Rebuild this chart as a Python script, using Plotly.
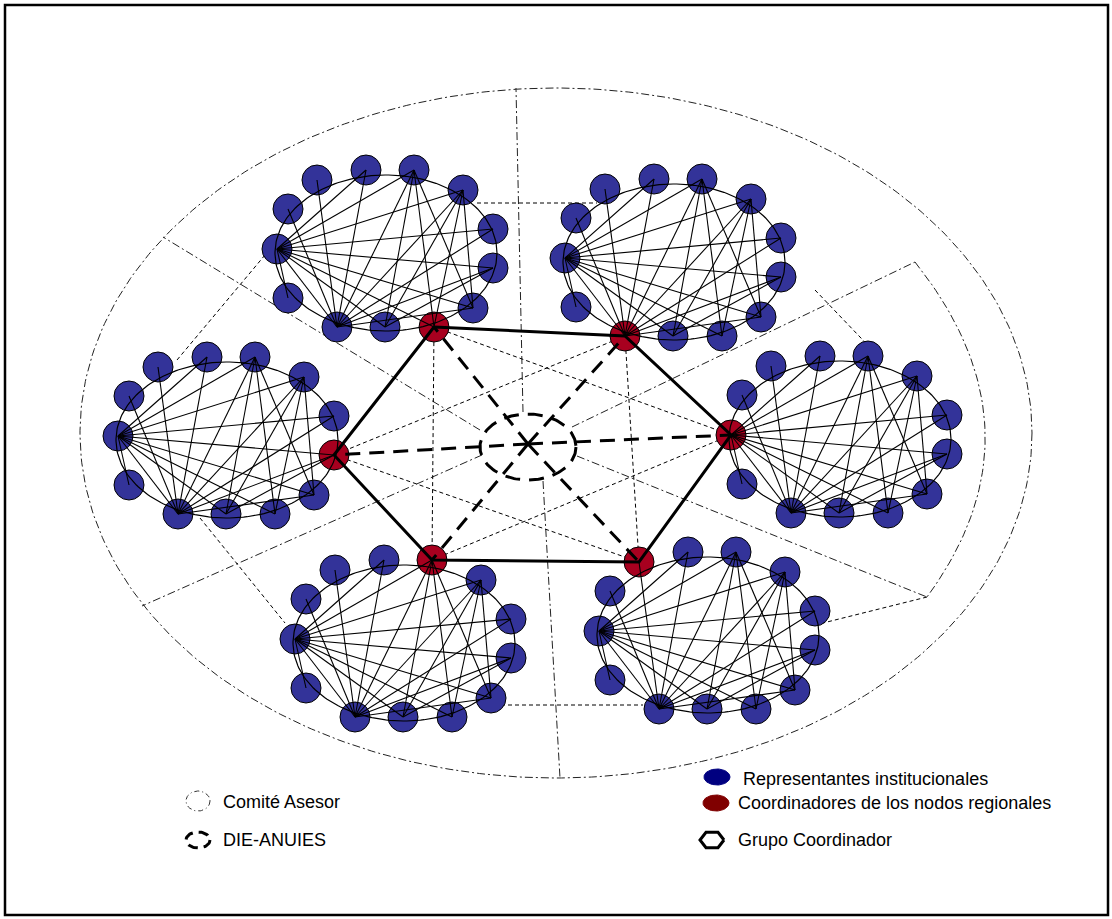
import numpy as np
import plotly.graph_objects as go

W, H = 1112, 919

# ---------------- data ----------------
# regional clusters (TL, TR, R, BR, BL, L)
cluster_cx = [386, 674, 840, 708, 404, 227]
cluster_cy = [253, 262, 439, 635, 643, 440]
red_index = [7, 9, 11, 0, 2, 5]
ring_rx, ring_ry = 111, 78

# node offsets inside each cluster (same template)
node_dx = [-69, -20, 28, 77, 107, 107, 87, 48, -1, -49, -98, -109, -98]
node_dy = [-73, -83, -83, -63, -24, 15, 55, 74, 74, 74, 45, -4, -44]

# edges of the template graph
edge_a = [11, 11, 11, 11, 11, 11, 11, 11, 11, 11,
          9, 9, 9, 9, 9, 9, 9, 9,
          2, 2, 2, 3, 3, 3, 5]
edge_b = [1, 2, 3, 4, 5, 6, 7, 8, 9, 10,
          0, 1, 2, 3, 4, 5, 6, 12,
          6, 7, 8, 6, 7, 8, 8]

# central DIE-ANUIES ellipse and outer Comité Asesor ellipse
die_c = (528, 447); die_r = (48, 33)
outer_c = (556, 433); outer_r = (476, 345)

# inner arc closing the right-hand sector (start, bulge, end)
arc_x = [915, 985, 927]
arc_y = [262, 430, 597]

# sector dividers (dash-dot): start and end points
sec_x0 = [523, 572, 577, 543, 482, 480]
sec_y0 = [412, 427, 456, 481, 455, 430]
sec_x1 = [516, 915, 927, 560, 142, 163]
sec_y1 = [88, 262, 597, 778, 606, 237]

# dashed connectors between neighbouring clusters
con_x0 = [477, 815, 927, 480, 200, 177]
con_y0 = [203, 290, 597, 705, 518, 360]
con_x1 = [597, 882, 823, 643, 285, 265]
con_y1 = [203, 360, 623, 705, 623, 255]

legend_left = ["Comité Asesor", "DIE-ANUIES"]
legend_right = ["Representantes institucionales",
                "Coordinadores de los nodos regionales",
                "Grupo Coordinador"]

BLUE = "#333399"
RED = "#A8001F"
DASHDOT = "8px,3px,2px,3px"
THIN_DASH = "4px,3px"
THICK_DASH = "15px,9px"

fig = go.Figure()

def seg_trace(xs, ys, width=1, dash="solid", color="black"):
    fig.add_trace(go.Scatter(x=xs, y=ys, mode="lines",
                             line=dict(color=color, width=width, dash=dash),
                             hoverinfo="skip", showlegend=False))

def ellipse_pts(c, r, n=200):
    t = np.linspace(0, 2 * np.pi, n)
    return list(c[0] + r[0] * np.cos(t)), list(c[1] + r[1] * np.sin(t))

# outer ellipse
ex, ey = ellipse_pts(outer_c, outer_r, 400)
seg_trace(ex, ey, 1, DASHDOT, "#222")

# right sector arc (quadratic curve through the three points)
s = np.linspace(0, 1, 60)
ctrl_x = 2 * arc_x[1] - 0.5 * (arc_x[0] + arc_x[2])
ctrl_y = 2 * arc_y[1] - 0.5 * (arc_y[0] + arc_y[2])
ax_ = (1 - s) ** 2 * arc_x[0] + 2 * s * (1 - s) * ctrl_x + s ** 2 * arc_x[2]
ay_ = (1 - s) ** 2 * arc_y[0] + 2 * s * (1 - s) * ctrl_y + s ** 2 * arc_y[2]
seg_trace(list(ax_), list(ay_), 1, DASHDOT, "#222")

# sector dividers
xs, ys = [], []
for a, b, c, d in zip(sec_x0, sec_y0, sec_x1, sec_y1):
    xs += [a, c, None]; ys += [b, d, None]
seg_trace(xs, ys, 1, DASHDOT, "#222")

# connectors
xs, ys = [], []
for a, b, c, d in zip(con_x0, con_y0, con_x1, con_y1):
    xs += [a, c, None]; ys += [b, d, None]
seg_trace(xs, ys, 1, THIN_DASH)

# red node positions
red_x = [cx + node_dx[k] for cx, k in zip(cluster_cx, red_index)]
red_y = [cy + node_dy[k] for cy, k in zip(cluster_cy, red_index)]

# hexagram (thin dashed)
xs, ys = [], []
for tri in ([0, 2, 4, 0], [1, 3, 5, 1]):
    xs += [red_x[i] for i in tri] + [None]
    ys += [red_y[i] for i in tri] + [None]
seg_trace(xs, ys, 1, THIN_DASH)

# clusters
for ci, (cx, cy) in enumerate(zip(cluster_cx, cluster_cy)):
    nx = [cx + d for d in node_dx]
    ny = [cy + d for d in node_dy]
    cols = [RED if i == red_index[ci] else BLUE for i in range(len(nx))]
    fig.add_trace(go.Scatter(x=nx, y=ny, mode="markers",
                             marker=dict(size=30, color=cols,
                                         line=dict(color="black", width=1)),
                             hoverinfo="skip", showlegend=False))
    rx, ry = ellipse_pts((cx, cy), (ring_rx, ring_ry))
    seg_trace(rx, ry, 1.2)
    xs, ys = [], []
    for a, b in zip(edge_a, edge_b):
        xs += [nx[a], nx[b], None]; ys += [ny[a], ny[b], None]
    seg_trace(xs, ys, 1.1)

# DIE-ANUIES spokes and ellipse (thick dashed)
xs, ys = [], []
for x, y in zip(red_x, red_y):
    xs += [die_c[0], x, None]; ys += [die_c[1] - 3, y, None]
seg_trace(xs, ys, 3, THICK_DASH)
dx_, dy_ = ellipse_pts(die_c, die_r)
seg_trace(dx_, dy_, 3, THICK_DASH)

# hexagon (Grupo Coordinador)
seg_trace(red_x + [red_x[0]], red_y + [red_y[0]], 3)

# ---------------- legend ----------------
lx, ly = ellipse_pts((198, 801), (12, 10), 60)
seg_trace(lx, ly, 1, "5px,3px,1px,3px", "#333")
lx, ly = ellipse_pts((198, 840), (12, 8), 60)
seg_trace(lx, ly, 3, "10px,6px")
for (c, col) in [((717, 777), "#000080"), ((716, 803), "#800000")]:
    lx, ly = ellipse_pts(c, (13, 8), 60)
    fig.add_trace(go.Scatter(x=lx, y=ly, mode="lines", fill="toself",
                             fillcolor=col, line=dict(color=col, width=1),
                             hoverinfo="skip", showlegend=False))
t = np.linspace(0, 2 * np.pi, 7)
seg_trace(list(712 + 12 * np.cos(t)), list(840 + 9 * np.sin(t)), 3)

ann = []
for txt, y in zip(legend_left, [802, 840]):
    ann.append(dict(x=221, y=y, text=txt, showarrow=False, xanchor="left",
                    yanchor="middle", font=dict(size=18, color="black",
                                                family="Liberation Sans")))
for txt, x, y in zip(legend_right, [741, 736, 736], [779, 803, 840]):
    ann.append(dict(x=x, y=y, text=txt, showarrow=False, xanchor="left",
                    yanchor="middle", font=dict(size=18, color="black",
                                                family="Liberation Sans")))

fig.update_layout(
    width=W, height=H, margin=dict(l=0, r=0, t=0, b=0),
    paper_bgcolor="white", plot_bgcolor="white",
    xaxis=dict(range=[0, W], visible=False, fixedrange=True),
    yaxis=dict(range=[H, 0], visible=False, fixedrange=True),
    annotations=ann,
    shapes=[dict(type="rect", x0=5, y0=5, x1=1108, y1=915, xref="x", yref="y",
                 line=dict(color="black", width=2.5))],
)
fig.write_html("out.html", config={"displayModeBar": False},
               post_script="document.body.style.margin='0';"
                           "document.body.style.padding='0';"
                           "document.body.style.overflow='hidden';")
